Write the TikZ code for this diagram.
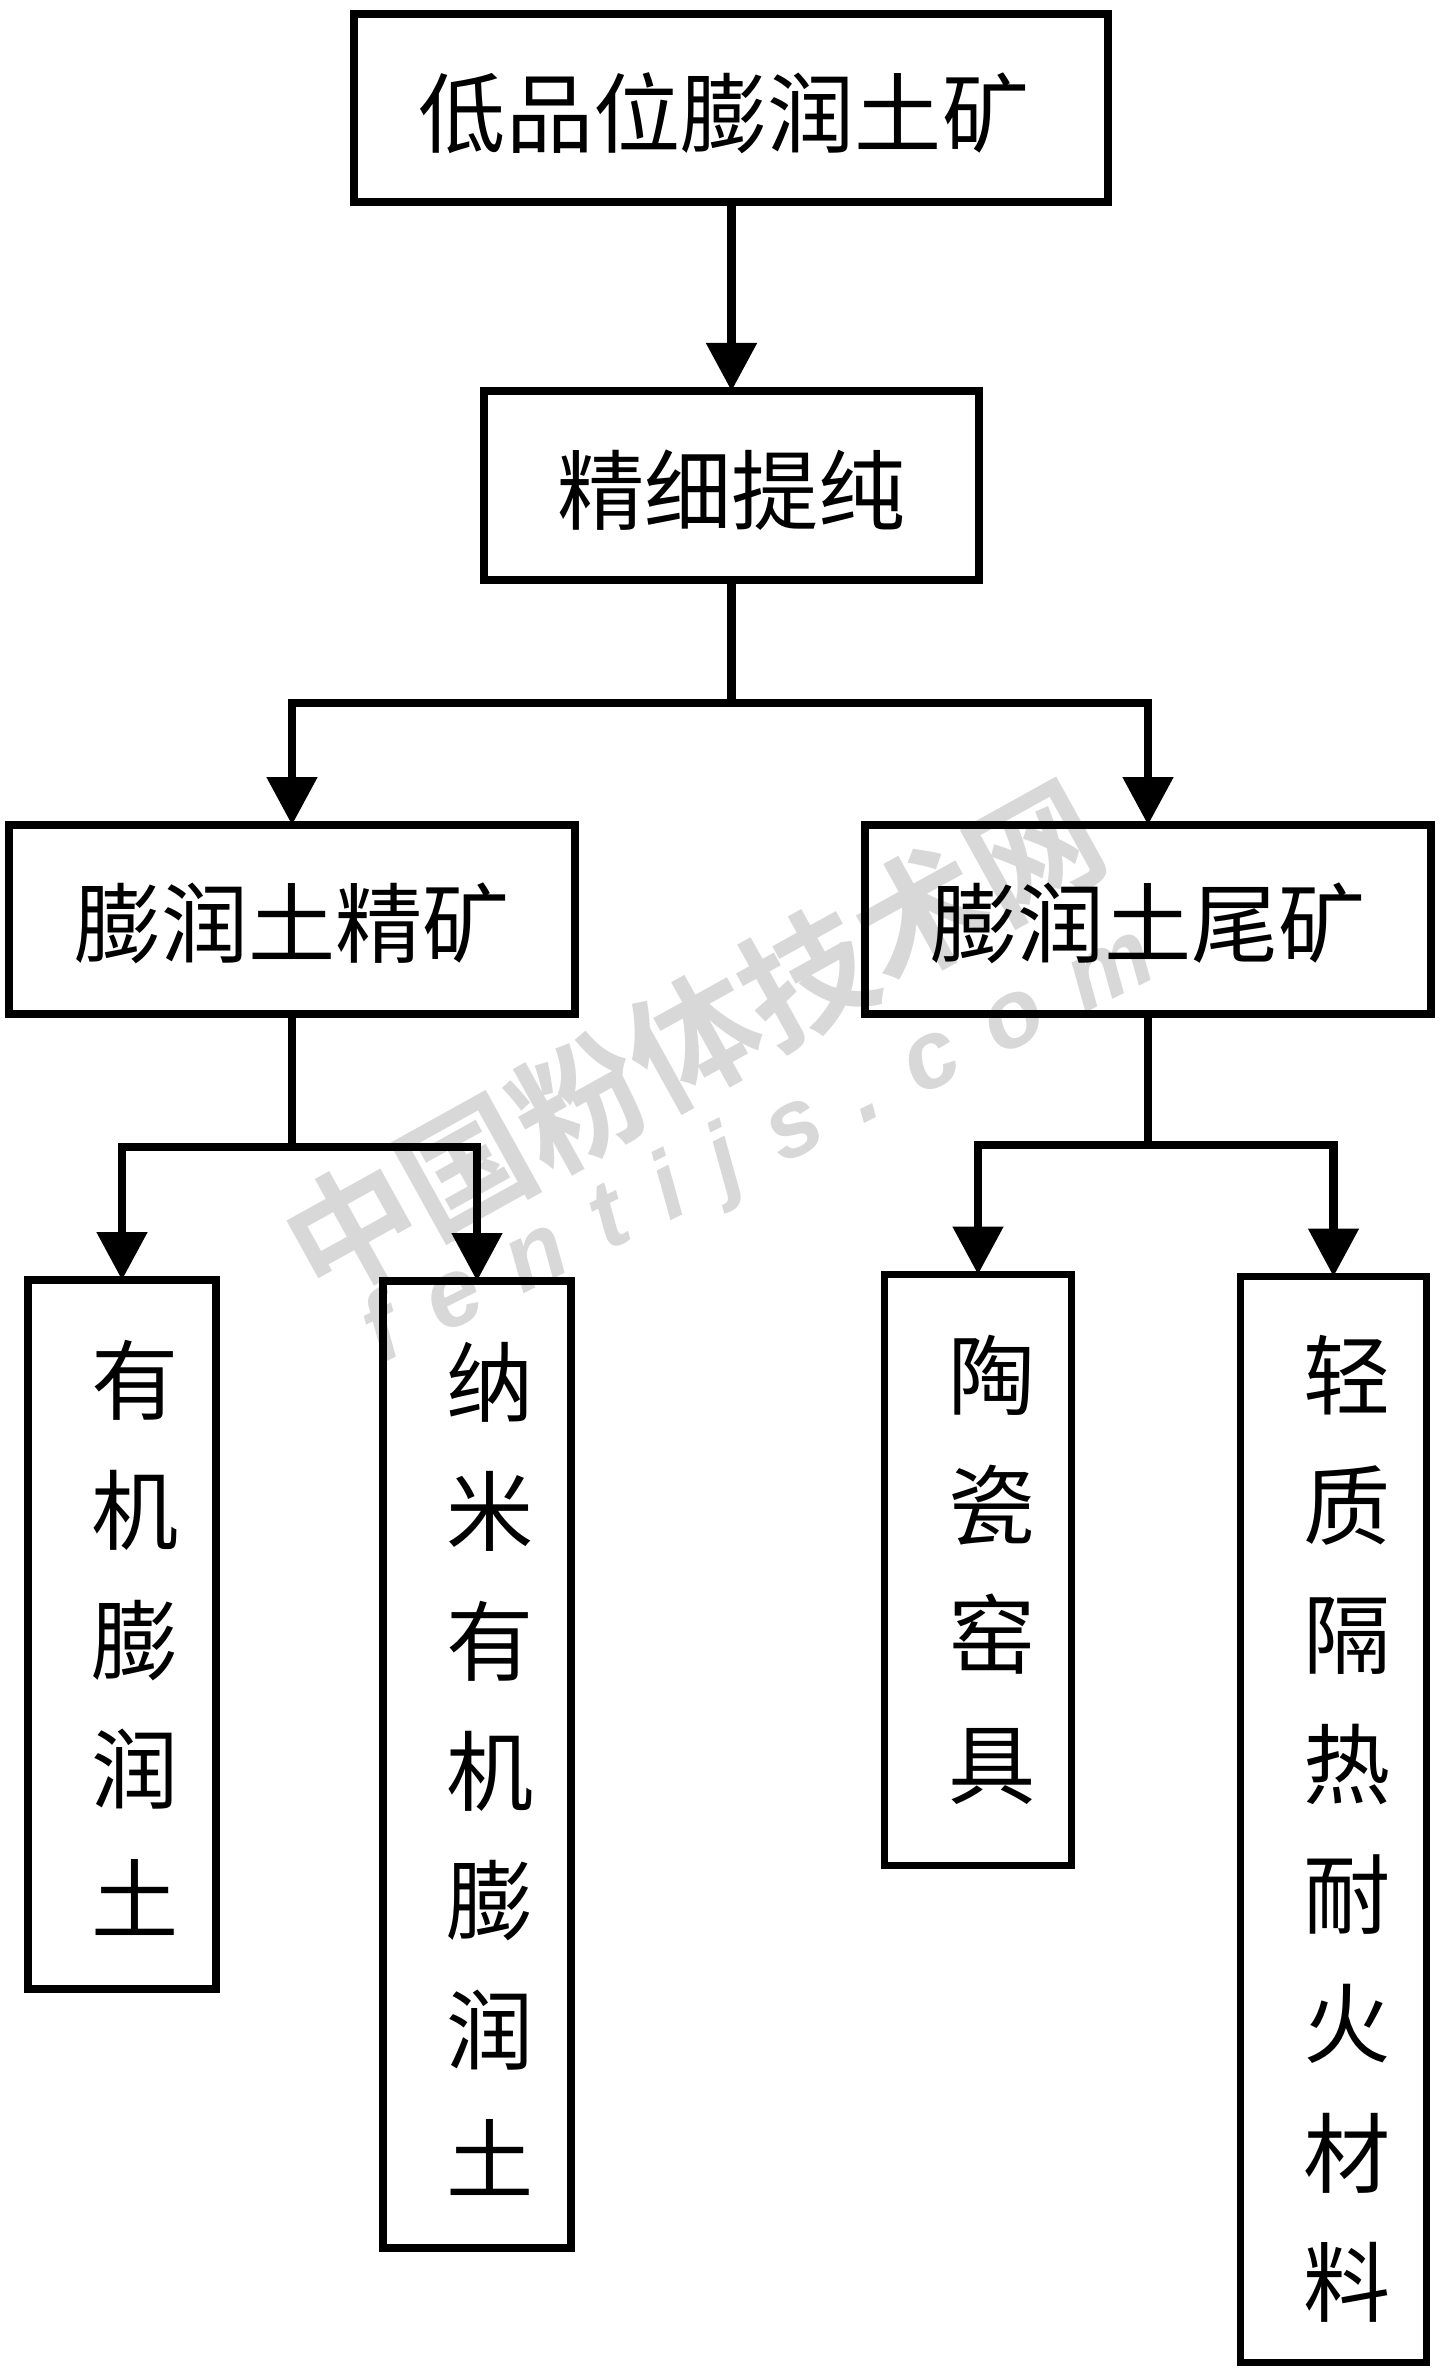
\documentclass[tikz,border=0pt]{standalone}
\usepackage{fontspec}
\usetikzlibrary{arrows.meta}
\newfontfamily\cjkfont{Noto Sans CJK SC}
\newfontfamily\cjkbold[BoldFont={Noto Sans CJK SC Bold}]{Noto Sans CJK SC}
\newfontfamily\wmlatin[LetterSpace=38]{Liberation Sans Bold Italic}
\definecolor{wmgray}{HTML}{D8D8D8}
\tikzset{
  box/.style={draw=black,line width=3.8pt,outer sep=0pt,inner sep=0pt,fill=none},
  boxlabel/.style={inner sep=0pt,font=\cjkfont\fontsize{43.6}{64.8}\selectfont,align=center,text=black},
  conn/.style={draw=black,line width=4.2pt},
  arr/.style={conn,-{Triangle[width=24.5pt,length=24pt]}},
  wmcn/.style={inner sep=0pt,text=wmgray,font=\cjkbold\bfseries\fontsize{65}{65}\selectfont},
  wmen/.style={inner sep=0pt,text=wmgray,font=\wmlatin\fontsize{48}{48}\selectfont}
}
\begin{document}
\begin{tikzpicture}[x=0.5pt,y=-0.5pt]
\useasboundingbox (0,0) rectangle (1443,2369);
\fill[white] (0,0) rectangle (1443,2369);
% watermark
\node[wmcn,rotate=29] (wmA) at (693,1040) {中国粉体技术网};
\node[wmen,rotate=26.5] (wmB) at (760,1148) {fentijs.com};
% boxes
\node[box,minimum width=377pt,minimum height=94pt] (ore) at (731,108) {};
\node[box,minimum width=247.5pt,minimum height=94.5pt] (pur) at (731.5,485.5) {};
\node[box,minimum width=283pt,minimum height=94.5pt] (conc) at (292,919.5) {};
\node[box,minimum width=283pt,minimum height=94.5pt] (tail) at (1148,919.5) {};
\node[box,minimum width=94pt,minimum height=354.5pt] (org) at (122,1634.5) {};
\node[box,minimum width=94pt,minimum height=483.5pt] (nano) at (477,1764.5) {};
\node[box,minimum width=93.5pt,minimum height=295.5pt] (cer) at (978,1570) {};
\node[box,minimum width=93pt,minimum height=543pt] (ins) at (1333.5,1819.5) {};
% labels
\node[boxlabel] (oreT) at (724,113) {低品位膨润土矿};
\node[boxlabel] (purT) at (731.5,490) {精细提纯};
\node[boxlabel] (concT) at (292,923) {膨润土精矿};
\node[boxlabel] (tailT) at (1148,923) {膨润土尾矿};
\node[boxlabel] (orgT) at (135,1638) {有\\机\\膨\\润\\土};
\node[boxlabel] (nanoT) at (490,1769) {纳\\米\\有\\机\\膨\\润\\土};
\node[boxlabel] (cerT) at (992,1570) {陶\\瓷\\窑\\具};
\node[boxlabel] (insT) at (1347,1829) {轻\\质\\隔\\热\\耐\\火\\材\\料};
% junctions
\coordinate (j1) at (731.5,703);
\coordinate (j2) at (292,1147);
\coordinate (j3) at (1148,1145);
% connectors
\draw[arr] (ore.south -| pur.north) -- (pur.north);
\draw[conn] (pur.south) -- (j1);
\draw[arr] (j1) -| (conc.north);
\draw[arr] (j1) -| (tail.north);
\draw[conn] (conc.south) -- (j2);
\draw[arr] (j2) -| (org.north);
\draw[arr] (j2) -| (nano.north);
\draw[conn] (tail.south) -- (j3);
\draw[arr] (j3) -| (cer.north);
\draw[arr] (j3) -| (ins.north);
\end{tikzpicture}
\end{document}
